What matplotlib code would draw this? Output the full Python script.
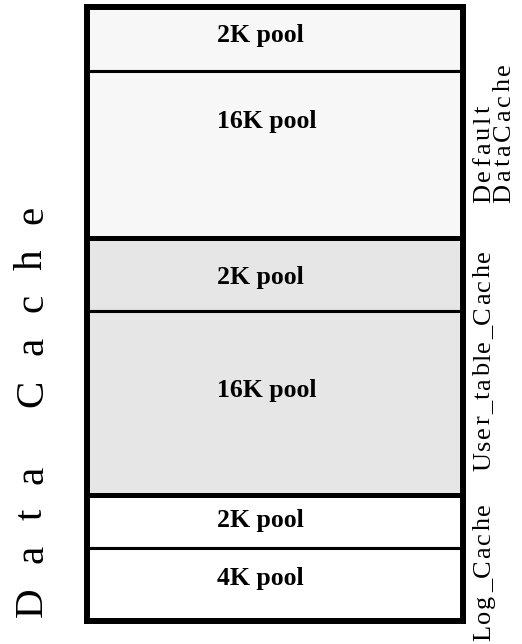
import matplotlib
matplotlib.use("Agg")
import matplotlib.pyplot as plt
from matplotlib.font_manager import FontProperties
import numpy as np

# pools, top to bottom
pool_names = ["2K pool", "16K pool", "2K pool", "16K pool", "2K pool", "4K pool"]
pool_sizes = [63.5, 167.5, 72.5, 184, 53, 73.5]
pool_cache = [0, 0, 1, 1, 2, 2]

cache_names = ["Default\nDataCache", "User_table_Cache", "Log_Cache"]
cache_colors = ["#f7f7f7", "#e6e6e6", "#ffffff"]

title = "Data Cache"

W, H, DPI = 522, 644, 100
SERIF = "Liberation Serif"

fig = plt.figure(figsize=(W / DPI, H / DPI), dpi=DPI)
ax = fig.add_axes([87 / W, 1 - 621 / H, 376 / W, 614 / H])

tops = np.concatenate([[0], np.cumsum(pool_sizes)[:-1]])
colors = [cache_colors[c] for c in pool_cache]
ax.bar([0] * len(pool_sizes), pool_sizes, bottom=tops, width=1, align="edge",
       color=colors, edgecolor="black", linewidth=2.2)

# thick lines between caches
for i in range(1, len(pool_cache)):
    if pool_cache[i] != pool_cache[i - 1]:
        ax.axhline(tops[i], color="black", linewidth=3.6)

ax.set_xlim(0, 1)
ax.set_ylim(sum(pool_sizes), 0)
ax.set_xticks([])
ax.set_yticks([])
for sp in ax.spines.values():
    sp.set_linewidth(4.3)

# pool labels (offset = distance from pool top to text baseline)
label_offsets = [35, 57.5, 46, 86.5, 32.5, 37.5]
for name, top, off in zip(pool_names, tops, label_offsets):
    ax.text(0.346, top + off, name, fontsize=18.5, fontweight="bold",
            family=SERIF, ha="left", va="baseline")

renderer = fig.canvas.get_renderer()


def advance(ch, prop):
    w1 = renderer.get_text_width_height_descent("|" + ch + "|", prop, ismath=False)[0]
    w0 = renderer.get_text_width_height_descent("||", prop, ismath=False)[0]
    return w1 - w0


def spaced_text(x_base, y_start, s, size, tracking):
    # vertical text, read bottom to top, with extra letter spacing (pixels)
    prop = FontProperties(family=SERIF, size=size)
    y = y_start
    for ch in s:
        a = advance(ch, prop)
        if ch != " ":
            fig.text(x_base / W, 1 - (y - a / 2) / H, ch, rotation=90,
                     rotation_mode="anchor", ha="center", va="baseline",
                     fontproperties=prop)
        y -= a + tracking


spaced_text(42, 617, title, 29.5, 24.5)

# (baseline x, start y, letter spacing) for each cache name
label_pos = [(490, 203, 3), (490, 471, 1.8), (490, 641, 2)]
for name, (x, y, tr) in zip(cache_names, label_pos):
    for k, line in enumerate(name.split("\n")):
        spaced_text(x + 20 * k, y, line, 19, tr)

fig.savefig("out.png", dpi=DPI)
